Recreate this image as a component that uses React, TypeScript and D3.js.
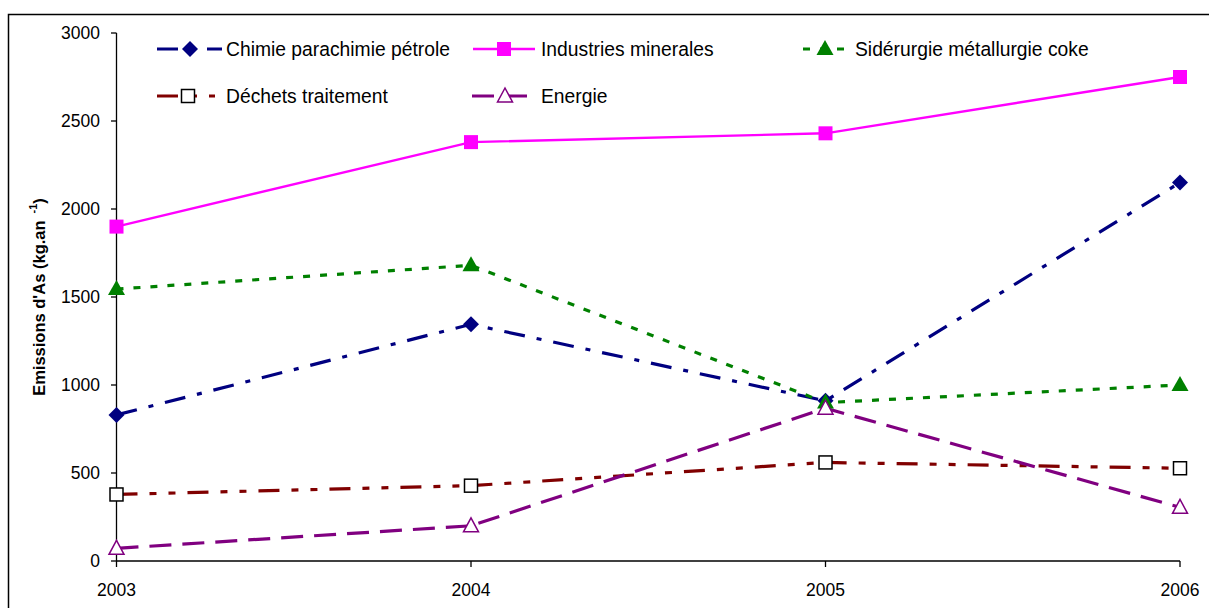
import React from "react";
import * as d3 from "d3";

const years = [2003, 2004, 2005, 2006];
const yTicks = [0, 500, 1000, 1500, 2000, 2500, 3000];
const chimie = [830, 1345, 910, 2150];
const industries = [1900, 2380, 2430, 2750];
const siderurgie = [1545, 1680, 900, 1000];
const dechets = [378, 428, 560, 527];
const energie = [72, 200, 868, 305];

type Series = {
  name: string;
  values: number[];
  color: string;
  dash: string;
  width: number;
  marker: "diamond" | "square" | "triangle" | "hsquare" | "htriangle";
};

const series: Series[] = [
  { name: "Chimie parachimie pétrole", values: chimie, color: "#000080", dash: "21,12,5,12", width: 3.2, marker: "diamond" },
  { name: "Industries minerales", values: industries, color: "#FF00FF", dash: "", width: 2.4, marker: "square" },
  { name: "Sidérurgie métallurgie coke", values: siderurgie, color: "#008000", dash: "7,10", width: 3.2, marker: "triangle" },
  { name: "Déchets traitement", values: dechets, color: "#800000", dash: "21,12,7,12,7,12", width: 3.2, marker: "hsquare" },
  { name: "Energie", values: energie, color: "#800080", dash: "22,11", width: 3.2, marker: "htriangle" },
];

const legendPos = [
  { x1: 157, x2: 222, mx: 190, tx: 226, y: 49 },
  { x1: 473, x2: 535, mx: 504, tx: 541, y: 49 },
  { x1: 803, x2: 846, mx: 825, tx: 855, y: 49 },
  { x1: 157, x2: 215, mx: 188, tx: 226, y: 96 },
  { x1: 472, x2: 527, mx: 505, tx: 541, y: 96 },
];

function Marker({ kind, x, y, color }: { kind: Series["marker"]; x: number; y: number; color: string }) {
  switch (kind) {
    case "diamond":
      return <path d={`M${x},${y - 8}L${x + 8},${y}L${x},${y + 8}L${x - 8},${y}Z`} fill={color} />;
    case "square":
      return <rect x={x - 7} y={y - 7} width={14} height={14} fill={color} />;
    case "triangle":
      return <path d={`M${x},${y - 9}L${x + 8.5},${y + 6}L${x - 8.5},${y + 6}Z`} fill={color} />;
    case "hsquare":
      return <rect x={x - 6.5} y={y - 6.5} width={13} height={13} fill="white" stroke="#000" strokeWidth={1.5} />;
    case "htriangle":
      return <path d={`M${x},${y - 8}L${x + 7.5},${y + 6}L${x - 7.5},${y + 6}Z`} fill="white" stroke={color} strokeWidth={1.5} />;
  }
}

export default function App() {
  const x = d3.scalePoint<number>().domain(years).range([116.5, 1180]);
  const y = d3.scaleLinear().domain([0, 3000]).range([561, 33]);
  const line = d3
    .line<number>()
    .x((_, i) => x(years[i]) as number)
    .y((d) => y(d));
  const font = "Liberation Sans, Arial, sans-serif";

  return (
    <svg width={1209} height={608} style={{ position: "absolute", left: 0, top: 0, background: "white" }} fontFamily={font}>
      <rect x={8.5} y={14.5} width={1220} height={620} fill="white" stroke="#000" strokeWidth={1.5} />
      {/* axes */}
      <line x1={116.5} x2={116.5} y1={y(3000)} y2={y(0)} stroke="#000" strokeWidth={1.3} />
      <line x1={116.5} x2={1180} y1={y(0)} y2={y(0)} stroke="#000" strokeWidth={1.3} />
      {yTicks.map((t) => (
        <g key={t}>
          <line x1={111} x2={116.5} y1={y(t)} y2={y(t)} stroke="#000" strokeWidth={1.3} />
          <text x={100} y={y(t) + 6} textAnchor="end" fontSize={17.5} fill="#000">
            {t}
          </text>
        </g>
      ))}
      {years.map((yr) => (
        <g key={yr}>
          <line x1={x(yr)} x2={x(yr)} y1={y(0)} y2={y(0) + 6} stroke="#000" strokeWidth={1.3} />
          <text x={x(yr)} y={596} textAnchor="middle" fontSize={17.5} fill="#000">
            {yr}
          </text>
        </g>
      ))}
      <text
        transform={`translate(45, ${(y(0) + y(3000)) / 2}) rotate(-90)`}
        textAnchor="middle"
        fontSize={16.5}
        fontWeight="bold"
        fill="#000"
      >
        Emissions d'As (kg.an<tspan dx={7} dy={-8} fontSize={11}>-1</tspan>
        <tspan dy={8}>)</tspan>
      </text>
      {/* series */}
      {series.map((s) => (
        <g key={s.name}>
          <path d={line(s.values) || ""} fill="none" stroke={s.color} strokeWidth={s.width} strokeDasharray={s.dash} />
        </g>
      ))}
      {series.map((s) => (
        <g key={s.name + "m"}>
          {s.values.map((v, i) => (
            <Marker key={i} kind={s.marker} x={x(years[i]) as number} y={y(v)} color={s.color} />
          ))}
        </g>
      ))}
      {/* legend */}
      {series.map((s, i) => {
        const p = legendPos[i];
        return (
          <g key={s.name + "l"}>
            <line x1={p.x1} x2={p.x2} y1={p.y} y2={p.y} stroke={s.color} strokeWidth={s.width} strokeDasharray={s.dash} />
            <Marker kind={s.marker} x={p.mx} y={p.y} color={s.color} />
            <text x={p.tx} y={p.y + 6.5} fontSize={19.3} fill="#000">
              {s.name}
            </text>
          </g>
        );
      })}
    </svg>
  );
}
